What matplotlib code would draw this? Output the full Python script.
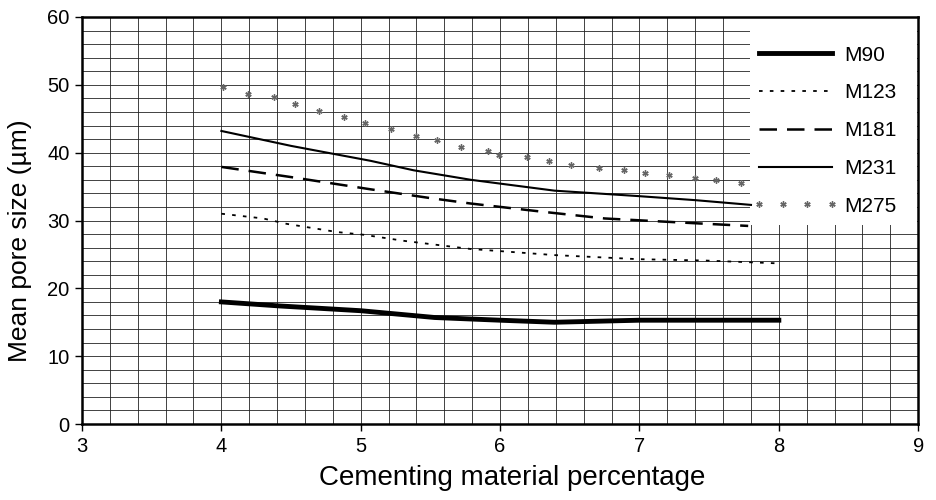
import matplotlib
matplotlib.use('Agg')
import matplotlib.pyplot as plt
from matplotlib.patches import Rectangle
from matplotlib.ticker import MultipleLocator

plt.rcParams['font.family'] = ['Liberation Sans', 'DejaVu Sans']

# values
x_m90 = [4.0, 4.42, 5.0, 5.53, 6.0, 6.39, 7.0, 7.5, 8.0]
y_m90 = [18.0, 17.4, 16.7, 15.7, 15.3, 15.0, 15.3, 15.3, 15.3]

x_m123 = [4.0, 4.3, 4.47, 4.83, 5.02, 5.31, 5.63, 5.79, 6.39, 6.99, 7.47, 7.97]
y_m123 = [31.0, 30.3, 29.5, 28.3, 27.9, 27.0, 26.2, 25.8, 24.9, 24.3, 24.1, 23.7]

x_m181 = [4.0, 4.5, 5.07, 5.5, 5.79, 6.3, 6.75, 7.3, 7.78]
y_m181 = [37.9, 36.4, 34.6, 33.3, 32.5, 31.3, 30.3, 29.7, 29.2]

x_m231 = [4.0, 4.5, 5.07, 5.38, 5.79, 6.39, 6.99, 7.4, 7.8]
y_m231 = [43.2, 41.0, 38.8, 37.4, 36.0, 34.4, 33.6, 33.0, 32.3]

x_m275 = [4.01, 4.19, 4.38, 4.53, 4.70, 4.88, 5.03, 5.22, 5.40, 5.55, 5.72, 5.91,
          5.99, 6.19, 6.35, 6.51, 6.71, 6.89, 7.04, 7.21, 7.40, 7.55, 7.73]
y_m275 = [49.7, 48.7, 48.2, 47.2, 46.2, 45.3, 44.4, 43.5, 42.5, 41.8, 40.9, 40.3,
          39.7, 39.3, 38.8, 38.2, 37.7, 37.4, 37.0, 36.7, 36.3, 36.0, 35.5]

fig = plt.figure(figsize=(9.36, 5.0), dpi=100)
ax = fig.add_axes([0.0876, 0.152, 0.8934, 0.814])

ax.set_xlim(3, 9)
ax.set_ylim(0, 60)
ax.xaxis.set_major_locator(MultipleLocator(1))
ax.xaxis.set_minor_locator(MultipleLocator(0.2))
ax.yaxis.set_major_locator(MultipleLocator(10))
ax.yaxis.set_minor_locator(MultipleLocator(2))
ax.grid(which='both', color='#222222', linewidth=0.6)
ax.set_axisbelow(True)
ax.tick_params(which='minor', length=0)
ax.tick_params(which='major', length=5, width=1, direction='out', labelsize=14.5, pad=4)
for s in ax.spines.values():
    s.set_linewidth(1.8)

# white area behind the legend
ax.add_patch(Rectangle((0.799, 0.49), 0.2, 0.51, transform=ax.transAxes,
                       facecolor='white', edgecolor='none', zorder=1.5))

ax.plot(x_m90, y_m90, color='black', lw=3.5, label='M90', zorder=3)
ax.plot(x_m123, y_m123, color='black', lw=1.3, ls=(0, (2, 4)), label='M123', zorder=3)
ax.plot(x_m181, y_m181, color='black', lw=1.8, ls=(0, (7, 4)), label='M181', zorder=3)
ax.plot(x_m231, y_m231, color='black', lw=1.5, label='M231', zorder=3)
ax.plot(x_m275, y_m275, ls='none', marker=(6, 2, 0), ms=4.5, mew=1.0,
        color='#666666', label='M275', zorder=3)

leg = ax.legend(loc='upper left', bbox_to_anchor=(0.792, 0.95), frameon=False,
                fontsize=15, handlelength=4.1, handletextpad=0.3,
                labelspacing=0.9, numpoints=4, borderaxespad=0)

ax.set_xlabel('Cementing material percentage', fontsize=20)
ax.set_ylabel('Mean pore size (µm)', fontsize=19)
ax.xaxis.set_label_coords(0.514, -0.133)
ax.yaxis.set_label_coords(-0.074, 0.45)
ax.xaxis.label.set_va('center')
ax.yaxis.label.set_va('center')

fig.savefig('out.png', dpi=100)
